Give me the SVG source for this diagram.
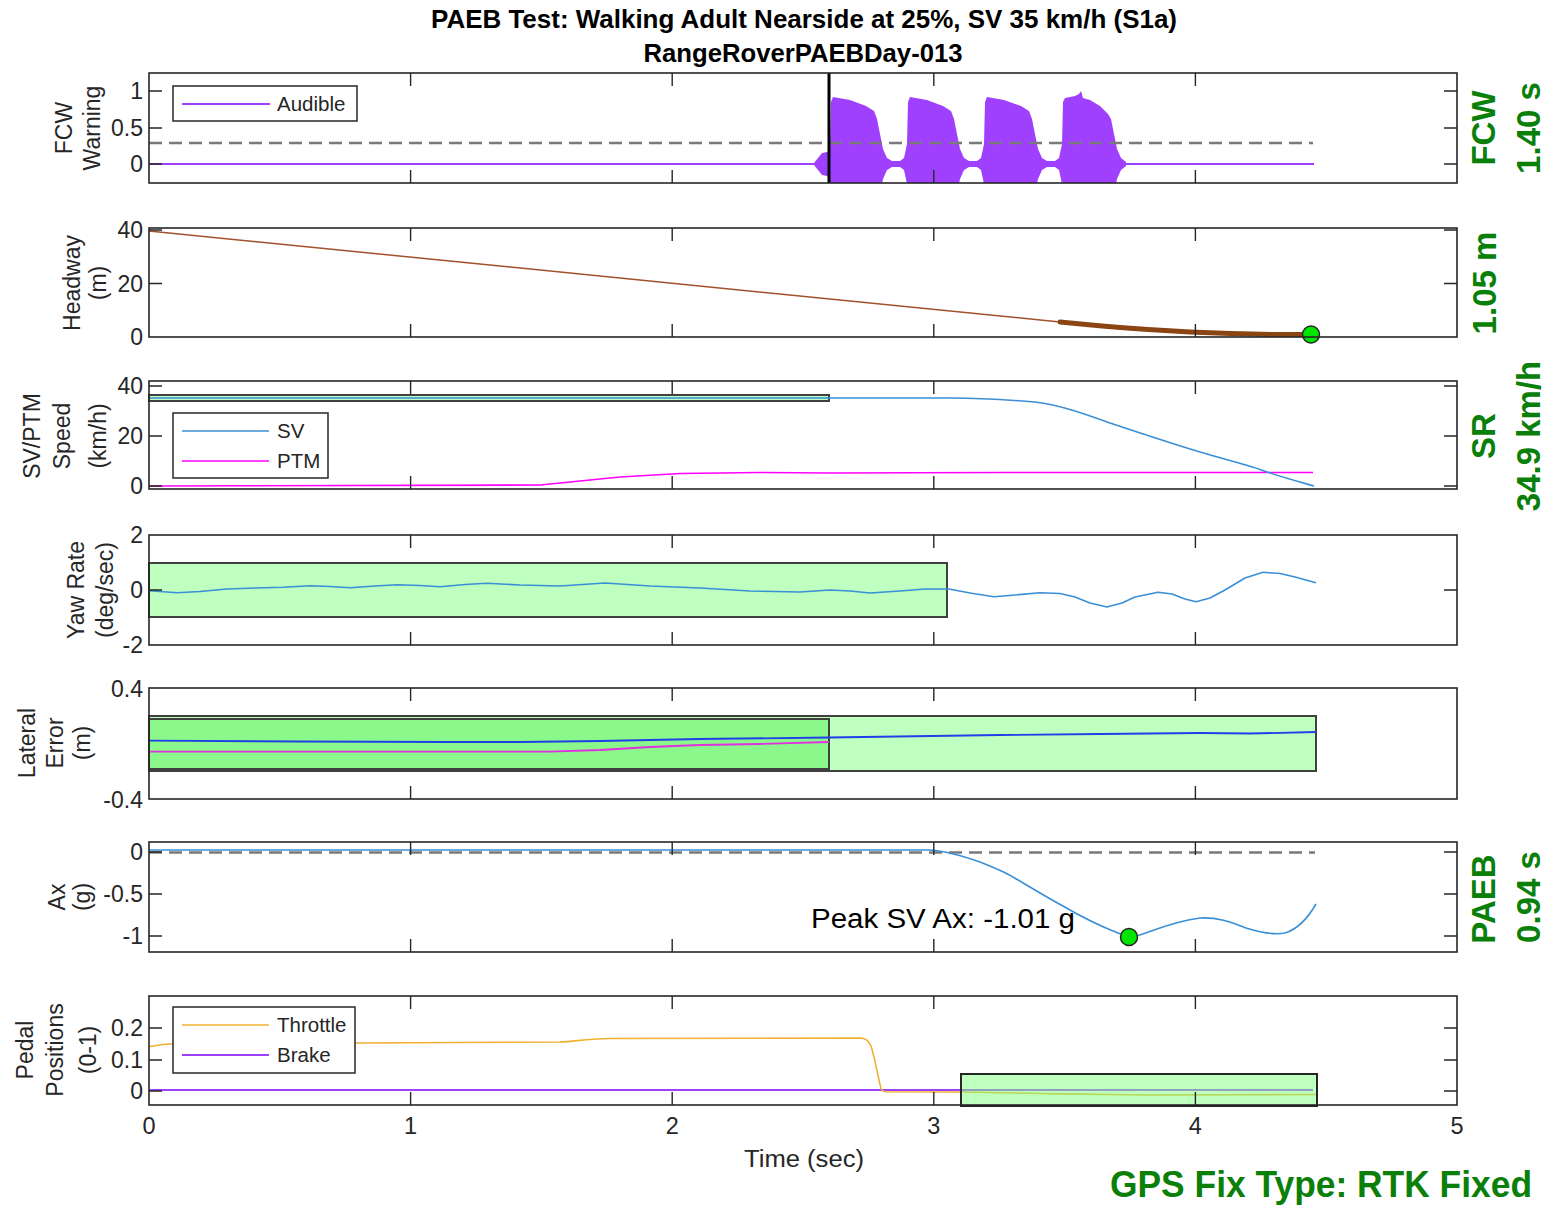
<svg xmlns="http://www.w3.org/2000/svg" width="1549" height="1206" viewBox="0 0 1549 1206">
<style>
text{font-family:"Liberation Sans",Arial,Helvetica,sans-serif}
.frame{fill:none;stroke:#262626;stroke-width:1.6}
.tick{fill:none;stroke:#262626;stroke-width:1.4}
.tl{font-size:23px;fill:#262626;text-anchor:end}
.tx{font-size:23.5px;fill:#262626;text-anchor:middle}
.al{font-size:23px;fill:#262626;text-anchor:middle}
.gl{font-size:33px;font-weight:bold;fill:#0A800A;text-anchor:middle}
.title{font-size:25.5px;font-weight:bold;fill:#000;text-anchor:middle}
.lg{fill:#fff;stroke:#262626;stroke-width:1.5}
.lgt{font-size:20.5px;fill:#262626}
.box{fill:#BFFFBF;stroke:#404040;stroke-width:2}
.dash{fill:none;stroke:#7A7A7A;stroke-width:2.5;stroke-dasharray:13 7}
.sv{fill:none;stroke:#3A8FD6;stroke-width:1.6;stroke-linejoin:round}
.ptm{fill:none;stroke:#FF00FF;stroke-width:1.6;stroke-linejoin:round}
.pur{fill:none;stroke:#A040FF;stroke-width:2}
.dot{fill:#00E600;stroke:#262626;stroke-width:1.5}
</style>
<defs>
<clipPath id="c1"><rect x="149" y="73" width="1308" height="110"/></clipPath>
</defs>

<g id="titles">
<text class="title" x="804" y="28" textLength="746" lengthAdjust="spacingAndGlyphs">PAEB Test: Walking Adult Nearside at 25%, SV 35 km/h (S1a)</text>
<text class="title" x="803" y="62" textLength="319" lengthAdjust="spacingAndGlyphs">RangeRoverPAEBDay-013</text>
</g>

<!-- Panel 1: FCW Warning -->
<g id="panel-fcw">
<path class="pur" d="M149,164 H1314"/>
<path clip-path="url(#c1)" fill="#A040FF" d="M814,163 L818,158 L822,153 L827,152 L830,150 L831,102 L833,97 L850,100 L866,106 L874,111 L877,119 L880,134 L883,149 L887,158 L892,161 L900,161 L904,158 L907,144 L908,102 L910,97 L927,100 L943,106 L951,111 L954,119 L957,134 L960,149 L964,158 L969,161 L977,161 L981,158 L984,144 L985,102 L987,97 L1004,100 L1021,106 L1029,111 L1032,119 L1035,134 L1038,149 L1042,158 L1047,161 L1055,161 L1059,158 L1062,144 L1063,102 L1065,98 L1075,96 L1079,94 L1081,91 L1083,98 L1090,100 L1100,106 L1108,114 L1111,119 L1114,134 L1117,149 L1121,158 L1126,162 L1126,166 L1121,170 L1117,179 L1114,194 L1111,209 L1108,214 L1100,222 L1090,228 L1083,230 L1081,237 L1079,234 L1075,232 L1065,230 L1063,226 L1062,184 L1059,170 L1055,167 L1047,167 L1042,170 L1038,179 L1035,194 L1032,209 L1029,217 L1021,222 L1004,228 L987,231 L985,226 L984,184 L981,170 L977,167 L969,167 L964,170 L960,179 L957,194 L954,209 L951,217 L943,222 L927,228 L910,231 L908,226 L907,184 L904,170 L900,167 L892,167 L887,170 L883,179 L880,194 L877,209 L874,217 L866,222 L850,228 L833,231 L831,226 L830,178 L827,176 L822,175 L818,170 L814,165 Z"/>
<path class="dash" d="M149,143 H1313"/>
<path d="M829,73 V183" stroke="#000" stroke-width="3"/>
<rect class="lg" x="173" y="86" width="184" height="35"/>
<path class="pur" d="M182,104 H270"/>
<text class="lgt" x="277" y="111">Audible</text>
<rect class="frame" x="149" y="73" width="1308" height="110"/>
<path class="tick" d="M410.6,73v13M672.2,73v13M933.8,73v13M1195.4,73v13M410.6,183v-13M672.2,183v-13M933.8,183v-13M1195.4,183v-13M149,91h13M149,128h13M149,164h13M1457,91h-13M1457,128h-13M1457,164h-13"/>
<text class="tl" x="143" y="99">1</text>
<text class="tl" x="143" y="136">0.5</text>
<text class="tl" x="143" y="172">0</text>
<text class="al" transform="translate(72,128) rotate(-90)">FCW</text>
<text class="al" transform="translate(100,128) rotate(-90)">Warning</text>
<text class="gl" transform="translate(1495,128) rotate(-90)">FCW</text>
<text class="gl" transform="translate(1540,128) rotate(-90)">1.40 s</text>
</g>

<!-- Panel 2: Headway -->
<g id="panel-headway">
<path d="M149,231 L1060,322" fill="none" stroke="#A0522D" stroke-width="1.5"/>
<path d="M1060,322 C1120,328 1180,332 1230,333.5 S1290,334.5 1311,334.5" fill="none" stroke="#8B4513" stroke-width="5" stroke-linecap="round"/>
<circle class="dot" cx="1311" cy="334.5" r="8.5"/>
<rect class="frame" x="149" y="228" width="1308" height="109"/>
<path class="tick" d="M410.6,228v13M672.2,228v13M933.8,228v13M1195.4,228v13M410.6,337v-13M672.2,337v-13M933.8,337v-13M1195.4,337v-13M149,230h13M149,283.5h13M1457,230h-13M1457,283.5h-13"/>
<text class="tl" x="143" y="238">40</text>
<text class="tl" x="143" y="291.5">20</text>
<text class="tl" x="143" y="345">0</text>
<text class="al" transform="translate(80,283) rotate(-90)">Headway</text>
<text class="al" transform="translate(106,283) rotate(-90)">(m)</text>
<text class="gl" transform="translate(1496,283) rotate(-90)">1.05 m</text>
</g>

<!-- Panel 3: Speed -->
<g id="panel-speed">
<rect class="box" x="149" y="395" width="680" height="6"/>
<path class="ptm" d="M149,486 L540,485 L580,481 L620,477 L680,473.5 L760,472.5 L829,473 L1000,472.5 L1313,472.5"/>
<path class="sv" d="M149,398 L950,398 C975,398 1005,399.5 1035,402 C1060,405 1085,414 1110,423 C1140,433 1170,443 1200,452 C1230,461 1250,465 1267,472 C1285,478 1300,482 1314,486"/>
<rect class="lg" x="173" y="413" width="155" height="65"/>
<path class="sv" d="M182,431 H269"/>
<text class="lgt" x="277" y="438">SV</text>
<path class="ptm" d="M182,461 H269"/>
<text class="lgt" x="277" y="468">PTM</text>
<rect class="frame" x="149" y="381" width="1308" height="108"/>
<path class="tick" d="M410.6,381v13M672.2,381v13M933.8,381v13M1195.4,381v13M410.6,489v-13M672.2,489v-13M933.8,489v-13M1195.4,489v-13M149,386h13M149,436h13M149,486h13M1457,386h-13M1457,436h-13M1457,486h-13"/>
<text class="tl" x="143" y="394">40</text>
<text class="tl" x="143" y="444">20</text>
<text class="tl" x="143" y="494">0</text>
<text class="al" transform="translate(40,436) rotate(-90)">SV/PTM</text>
<text class="al" transform="translate(70,436) rotate(-90)">Speed</text>
<text class="al" transform="translate(106,436) rotate(-90)">(km/h)</text>
<text class="gl" transform="translate(1495,436) rotate(-90)">SR</text>
<text class="gl" transform="translate(1540,436) rotate(-90)">34.9 km/h</text>
</g>

<!-- Panel 4: Yaw Rate -->
<g id="panel-yaw">
<rect class="box" x="149" y="563" width="798" height="54"/>
<polyline class="sv" points="149,590.7 177,592.7 200,591.5 227,589 255,588 283,587.3 310,585.7 330,586.5 350,587.7 375,586 397,584.7 420,585.5 440,586.7 465,584.5 487,583.3 520,585 560,586 605,583 650,586 700,588 750,591 800,592 830,590 850,591 870,593 900,591 925,589 949,589 970,593 994,596.7 1015,595 1040,592.7 1060,593.5 1075,597 1090,603 1107,607 1122,603 1135,597 1158,592.3 1172,594 1185,599 1196,601.7 1210,598 1225,590 1245,578 1263,572.3 1280,573.5 1295,577 1316,582.7"/>
<rect class="frame" x="149" y="535" width="1308" height="110"/>
<path class="tick" d="M410.6,535v13M672.2,535v13M933.8,535v13M1195.4,535v13M410.6,645v-13M672.2,645v-13M933.8,645v-13M1195.4,645v-13M149,590h13M1457,590h-13"/>
<text class="tl" x="143" y="543">2</text>
<text class="tl" x="143" y="598">0</text>
<text class="tl" x="143" y="653">-2</text>
<text class="al" transform="translate(84,590) rotate(-90)">Yaw Rate</text>
<text class="al" transform="translate(113,590) rotate(-90)">(deg/sec)</text>
</g>

<!-- Panel 5: Lateral Error -->
<g id="panel-lateral">
<rect class="box" x="149" y="716" width="1167" height="55"/>
<rect x="149" y="719" width="680" height="50" fill="#8BF88B" stroke="#404040" stroke-width="2"/>
<polyline fill="none" stroke="#E030E0" stroke-width="1.8" points="149,751.7 550,751.7 600,750 650,747 700,745 760,744 829,742"/>
<polyline fill="none" stroke="#1F3FE8" stroke-width="1.8" points="149,740.7 300,741.5 450,742 520,742 600,741 700,739 829,737.5 1000,735 1100,734 1200,733 1250,733.5 1316,732"/>
<rect class="frame" x="149" y="688" width="1308" height="111"/>
<path class="tick" d="M410.6,688v13M672.2,688v13M933.8,688v13M1195.4,688v13M410.6,799v-13M672.2,799v-13M933.8,799v-13M1195.4,799v-13"/>
<text class="tl" x="143" y="697">0.4</text>
<text class="tl" x="143" y="808">-0.4</text>
<text class="al" transform="translate(35,743) rotate(-90)">Lateral</text>
<text class="al" transform="translate(63,743) rotate(-90)">Error</text>
<text class="al" transform="translate(90,743) rotate(-90)">(m)</text>
</g>

<!-- Panel 6: Ax -->
<g id="panel-ax">
<path class="dash" d="M149,852.5 H1315"/>
<path class="sv" d="M149,850 L930,850 C945,851 960,855 980,862 C995,868 1005,872 1013,877 C1030,887 1050,899 1063,906 C1080,916 1100,926 1118,933 C1125,936 1132,937 1140,935 C1155,930 1175,921 1200,918 C1220,917 1235,924 1246,928 C1262,933 1275,935 1285,933 C1298,929 1308,918 1316,904"/>
<circle class="dot" cx="1129" cy="937" r="8.5"/>
<text x="811" y="928" font-size="27" fill="#000" textLength="264" lengthAdjust="spacingAndGlyphs">Peak SV Ax: -1.01 g</text>
<rect class="frame" x="149" y="842" width="1308" height="110"/>
<path class="tick" d="M410.6,842v13M672.2,842v13M933.8,842v13M1195.4,842v13M410.6,952v-13M672.2,952v-13M933.8,952v-13M1195.4,952v-13M149,852h13M149,894h13M149,936h13M1457,852h-13M1457,894h-13M1457,936h-13"/>
<text class="tl" x="143" y="860">0</text>
<text class="tl" x="143" y="902">-0.5</text>
<text class="tl" x="143" y="944">-1</text>
<text class="al" transform="translate(65,897) rotate(-90)">Ax</text>
<text class="al" transform="translate(90,897) rotate(-90)">(g)</text>
<text class="gl" transform="translate(1495,899) rotate(-90)">PAEB</text>
<text class="gl" transform="translate(1540,897) rotate(-90)">0.94 s</text>
</g>

<!-- Panel 7: Pedal Positions -->
<g id="panel-pedal">
<path class="pur" d="M149,1090 H1313"/>
<path fill="none" stroke="#F0B030" stroke-width="1.6" stroke-linejoin="round" d="M149,1046.7 C158,1045 165,1044 175,1043.8 L411,1042.7 L560,1042 C575,1041.5 585,1039 610,1038.5 L861,1038 C866,1038.5 869,1041 871,1046 C875,1058 878,1078 881,1088 C882,1091 883,1091.7 886,1091.8 L960,1092 C1000,1093 1100,1094.5 1150,1095 C1200,1094.5 1250,1094.5 1316,1094.5"/>
<rect x="961" y="1074" width="356" height="32" fill="#80FF80" fill-opacity="0.5" stroke="#262626" stroke-width="2"/>
<rect class="lg" x="173" y="1007" width="182" height="66"/>
<path d="M182,1025 H269" stroke="#F0B030" stroke-width="1.6"/>
<text class="lgt" x="277" y="1032">Throttle</text>
<path class="pur" d="M182,1055 H269"/>
<text class="lgt" x="277" y="1062">Brake</text>
<rect class="frame" x="149" y="996" width="1308" height="109"/>
<path class="tick" d="M410.6,996v13M672.2,996v13M933.8,996v13M1195.4,996v13M410.6,1105v-13M672.2,1105v-13M933.8,1105v-13M1195.4,1105v-13M149,1028h13M149,1060h13M149,1091h13M1457,1028h-13M1457,1060h-13M1457,1091h-13"/>
<text class="tl" x="143" y="1036">0.2</text>
<text class="tl" x="143" y="1068">0.1</text>
<text class="tl" x="143" y="1099">0</text>
<text class="al" transform="translate(33,1050) rotate(-90)">Pedal</text>
<text class="al" transform="translate(63,1050) rotate(-90)">Positions</text>
<text class="al" transform="translate(96,1050) rotate(-90)">(0-1)</text>
</g>

<g id="x-axis">
<text class="tx" x="149" y="1134">0</text>
<text class="tx" x="410.6" y="1134">1</text>
<text class="tx" x="672.2" y="1134">2</text>
<text class="tx" x="933.8" y="1134">3</text>
<text class="tx" x="1195.4" y="1134">4</text>
<text class="tx" x="1457" y="1134">5</text>
<text class="tx" x="804" y="1167" textLength="120" lengthAdjust="spacingAndGlyphs">Time (sec)</text>
</g>

<g id="footer">
<text x="1110" y="1197" font-size="36" font-weight="bold" fill="#0A800A" textLength="422" lengthAdjust="spacingAndGlyphs">GPS Fix Type: RTK Fixed</text>
</g>
</svg>
